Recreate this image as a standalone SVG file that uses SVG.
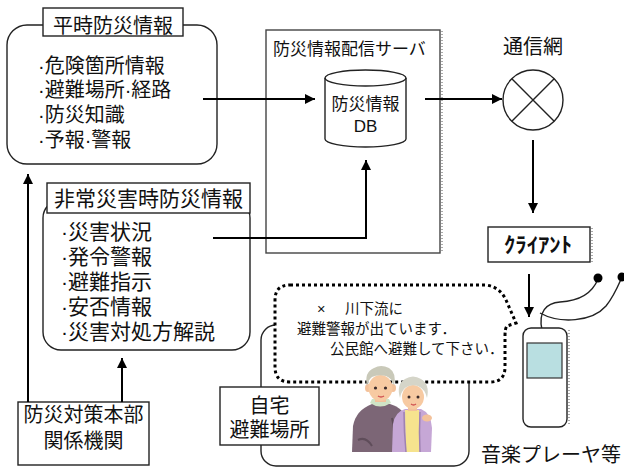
<svg xmlns="http://www.w3.org/2000/svg" width="624" height="468" viewBox="0 0 624 468">
  <defs>
    <style>
      text { font-family: "Liberation Sans", "Noto Sans CJK JP", sans-serif; fill: #111; }
      .box { fill: #fff; stroke: #222; stroke-width: 1.4; }
      .gbox { fill: #fff; stroke: #444; stroke-width: 1.4; }
      .shadow { fill: none; stroke: #aaa; stroke-width: 2; stroke-dasharray: 1 2; }
      .conn { fill: none; stroke: #000; stroke-width: 2; }
      .thin { fill: none; stroke: #222; stroke-width: 1.4; }
      .bubble { fill: #fff; stroke: #000; stroke-width: 3; stroke-dasharray: 3 3; }
    </style>
    <marker id="arrow" viewBox="0 0 10 10" refX="10" refY="5" markerWidth="5" markerHeight="5" orient="auto" markerUnits="strokeWidth">
      <path d="M0,0 L10,5 L0,10 Z" fill="#000"/>
    </marker>
  </defs>

  <rect width="624" height="468" fill="#fff"/>

  <!-- everyday disaster-prevention information -->
  <g id="heiji">
    <rect class="box" x="7" y="25" width="210" height="139" rx="20"/>
    <rect class="box" x="43" y="8" width="140" height="28"/>
    <text x="113" y="33" font-size="20" text-anchor="middle">平時防災情報</text>
    <text x="38" y="73" font-size="20">·危険箇所情報</text>
    <text x="38" y="97" font-size="20">·避難場所·経路</text>
    <text x="38" y="122" font-size="20">·防災知識</text>
    <text x="38" y="147" font-size="20">·予報·警報</text>
  </g>

  <!-- distribution server -->
  <g id="server">
    <line class="shadow" x1="442" y1="31" x2="442" y2="253"/>
    <rect class="gbox" x="266" y="30" width="174" height="223"/>
    <text x="273" y="55" font-size="17">防災情報配信サーバ</text>
  </g>

  <!-- database cylinder -->
  <g id="db">
    <path class="box" d="M325,78 A40.5,8 0 0 1 406,78 L406,139 A40.5,8 0 0 1 325,139 Z"/>
    <path class="thin" d="M325,78 A40.5,8 0 0 0 406,78"/>
    <text x="365.5" y="110" font-size="17" text-anchor="middle">防災情報</text>
    <text x="365.5" y="132" font-size="17" text-anchor="middle">DB</text>
  </g>

  <!-- network -->
  <g id="network">
    <text x="533" y="54" font-size="20" text-anchor="middle">通信網</text>
    <circle class="thin" cx="533" cy="100" r="30" stroke-width="1.6"/>
    <path class="thin" stroke-width="1.6" d="M511.8,78.8 L554.2,121.2 M554.2,78.8 L511.8,121.2"/>
  </g>

  <!-- client -->
  <g id="client">
    <line class="shadow" x1="592" y1="228" x2="592" y2="262"/>
    <rect class="box" x="488" y="227" width="102" height="35"/>
    <text x="538" y="252" font-size="21" font-weight="bold" text-anchor="middle" textLength="68" lengthAdjust="spacingAndGlyphs">ｸﾗｲｱﾝﾄ</text>
  </g>

  <!-- music player with earphones -->
  <g id="player">
    <path class="thin" stroke-width="1.8" d="M542,330 C538,312 546,303 560,302 C578,301 592,294 598,279"/>
    <path class="thin" stroke-width="1.8" d="M540,313 C560,324 592,322 606,306 C614,296 618,286 622,277"/>
    <circle cx="598" cy="278" r="4.5" fill="#000"/>
    <circle cx="622" cy="277" r="4.5" fill="#000"/>
    <line class="shadow" x1="569" y1="330" x2="569" y2="425"/>
    <rect class="box" x="523" y="328" width="44" height="99" rx="8"/>
    <rect x="527" y="343" width="35" height="35" fill="#b9dfe1" stroke="#333" stroke-width="1.2"/>
    <text x="481" y="462" font-size="20">音楽プレーヤ等</text>
  </g>

  <!-- emergency disaster information -->
  <g id="hijou">
    <rect class="box" x="43" y="200" width="207" height="150" rx="18"/>
    <rect class="box" x="47" y="183" width="203" height="30"/>
    <text x="148.5" y="206" font-size="21" text-anchor="middle">非常災害時防災情報</text>
    <text x="61" y="239" font-size="21">·災害状況</text>
    <text x="61" y="264" font-size="21">·発令警報</text>
    <text x="61" y="289" font-size="21">·避難指示</text>
    <text x="61" y="314" font-size="21">·安否情報</text>
    <text x="61" y="339" font-size="21">·災害対処方解説</text>
  </g>

  <!-- headquarters -->
  <g id="honbu">
    <rect class="box" x="18" y="402" width="131" height="63"/>
    <text x="83.5" y="422" font-size="20" text-anchor="middle">防災対策本部</text>
    <text x="83.5" y="448" font-size="20" text-anchor="middle">関係機関</text>
  </g>

  <!-- home / shelter area -->
  <g id="home">
    <rect class="thin" x="261" y="325" width="208" height="141" rx="15"/>
  </g>

  <!-- speech bubble -->
  <g id="bubble">
    <path class="bubble" d="M290,285 L486,285 Q500,287 506,300 L516,323 L507,326 Q505,328 505,336 L505,367 Q505,382 490,382 L290,382 Q275,382 275,367 L275,300 Q275,285 290,285 Z"/>
    <text x="317" y="314" font-size="14.5">×</text>
    <text x="345" y="314" font-size="14.5">川下流に</text>
    <text x="297" y="334" font-size="14.5">避難警報が出ています．</text>
    <text x="330" y="354" font-size="14.5">公民館へ避難して下さい．</text>
  </g>

  <g id="home-label">
    <rect class="box" x="220" y="387" width="99" height="58"/>
    <text x="269.5" y="413" font-size="20" text-anchor="middle">自宅</text>
    <text x="269.5" y="437" font-size="20" text-anchor="middle">避難場所</text>
  </g>

  <!-- elderly couple -->
  <g id="couple">
    <!-- man -->
    <path d="M352,452 L353,426 Q356,410 372,404 L390,404 Q404,408 406,420 L404,452 Z" fill="#7c6676"/>
    <path d="M358,440 Q366,436 372,446 M392,418 Q396,432 394,450" fill="none" stroke="#5f4d5a" stroke-width="2"/>
    <path d="M370,403 Q380,410 391,403 L389,399 L372,399 Z" fill="#cfe4c6"/>
    <rect x="375" y="394" width="11" height="8" fill="#f3c19a"/>
    <ellipse cx="368" cy="388" rx="3" ry="4" fill="#f3c19a"/>
    <ellipse cx="393" cy="388" rx="3" ry="4" fill="#f3c19a"/>
    <ellipse cx="380.5" cy="388" rx="12" ry="13" fill="#f7caa2"/>
    <path d="M367,386 Q364,372 374,368 Q381,364 389,368 Q397,373 394,386 Q392,378 386,376 Q378,374 372,377 Q368,380 367,386 Z" fill="#c9c9b9"/>
    <circle cx="375.5" cy="388" r="1.6" fill="#3a2a2a"/>
    <circle cx="385.5" cy="388" r="1.6" fill="#3a2a2a"/>
    <path d="M378,396 Q381,398 384,396" fill="none" stroke="#d05050" stroke-width="1.4"/>
    <!-- woman -->
    <path d="M392,452 L393,424 Q395,412 405,409 L421,409 Q431,413 432,428 L431,452 Z" fill="#c6a7d6"/>
    <path d="M405,410 L419,410 L420,452 L406,452 Z" fill="#f6e38e"/>
    <path d="M404,412 Q404,432 406,452 M420,412 Q419,432 420,452" fill="none" stroke="#9f82b2" stroke-width="1.5"/>
    <rect x="408" y="403" width="9" height="8" fill="#f3c19a"/>
    <ellipse cx="413" cy="397" rx="11" ry="12" fill="#f7caa2"/>
    <path d="M400,398 Q396,384 405,379 Q413,374 421,379 Q430,384 427,398 Q425,389 418,386 Q410,384 405,388 Q401,392 400,398 Z" fill="#d5d5c9"/>
    <circle cx="409" cy="397" r="1.5" fill="#3a2a2a"/>
    <circle cx="418" cy="397" r="1.5" fill="#3a2a2a"/>
    <path d="M411,404 Q413.5,406 416,404" fill="none" stroke="#d05050" stroke-width="1.3"/>
    <!-- hand on shoulder -->
    <ellipse cx="427" cy="418" rx="5" ry="3.5" fill="#f3c19a"/>
  </g>

  <!-- connectors -->
  <g id="connectors">
    <line class="conn" x1="203" y1="99" x2="315" y2="99" marker-end="url(#arrow)"/>
    <line class="conn" x1="425" y1="99" x2="502" y2="99" marker-end="url(#arrow)"/>
    <line class="conn" x1="533" y1="140" x2="533" y2="213" marker-end="url(#arrow)"/>
    <line class="conn" x1="529" y1="274" x2="529" y2="317" marker-end="url(#arrow)"/>
    <polyline class="conn" points="213,238 366,238 366,160" marker-end="url(#arrow)"/>
    <line class="conn" x1="28" y1="402" x2="28" y2="174" marker-end="url(#arrow)"/>
    <line class="conn" x1="122" y1="402" x2="122" y2="358" marker-end="url(#arrow)"/>
  </g>
</svg>
